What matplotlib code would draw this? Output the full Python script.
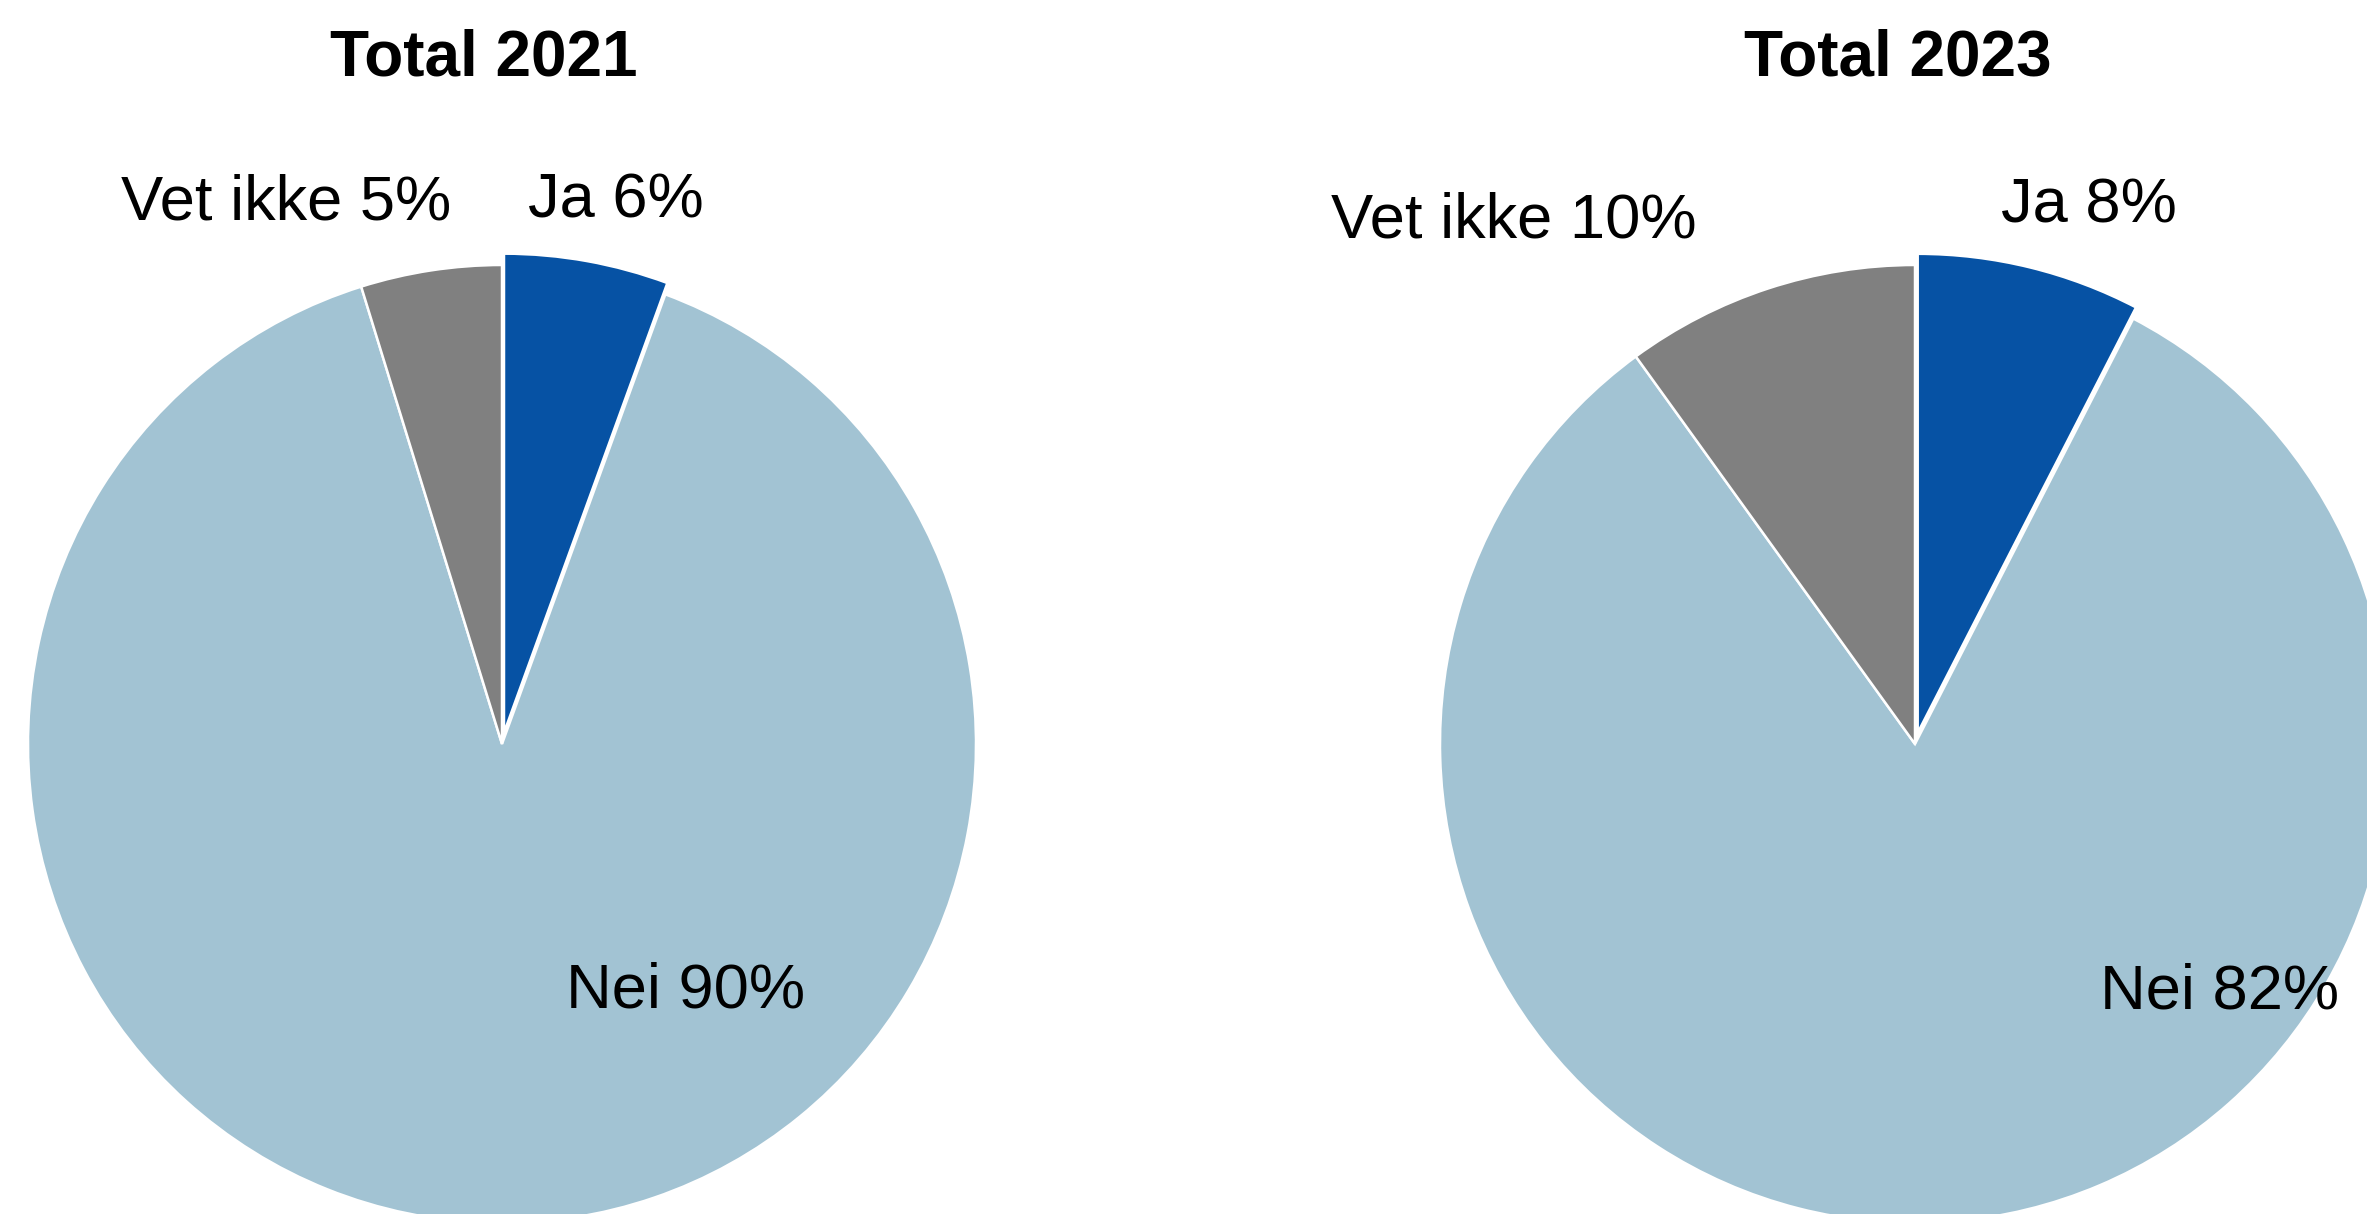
import matplotlib
matplotlib.use("Agg")
import matplotlib.pyplot as plt

plt.rcParams['font.family'] = ['Liberation Sans', 'DejaVu Sans']

# Data
categories = ["Ja", "Nei", "Vet ikke"]
titles = ["Total 2021", "Total 2023"]
values_2021 = [5.6, 89.6, 4.8]
values_2023 = [7.6, 82.4, 10.0]
labels_2021 = ["Ja 6%", "Nei 90%", "Vet ikke 5%"]
labels_2023 = ["Ja 8%", "Nei 82%", "Vet ikke 10%"]
colors = ["#0652A4", "#A2C3D3", "#808080"]
explode = [0.024, 0.0, 0.0]

W, H = 2367, 1214
fig = plt.figure(figsize=(W / 100, H / 100), dpi=100)

def add_pie(cx, cy, rx, ry, values, labels, title, label_pos, title_x):
    ax = fig.add_axes([(cx - rx) / W, (H - cy - ry) / H, 2 * rx / W, 2 * ry / H])
    ax.pie(values, colors=colors, startangle=90, counterclock=False,
           explode=explode,
           wedgeprops=dict(edgecolor="white", linewidth=1.8))
    ax.set_xlim(-1, 1)
    ax.set_ylim(-1, 1)
    ax.set_aspect("auto")
    ax.axis("off")
    for lab, (x, y) in zip(labels, label_pos):
        ax.text(x, y, lab, ha="center", va="baseline", fontsize=45.5,
                color="black", clip_on=False)
    fig.text(title_x / W, (H - 76) / H, title, ha="center", va="baseline",
             fontsize=46, fontweight="bold", color="black")
    return ax

add_pie(502, 744, 474, 479, values_2021, labels_2021, titles[0],
        [(0.241, 1.100), (0.388, -0.551), (-0.456, 1.096)], 484)
add_pie(1915, 744, 475, 479, values_2023, labels_2023, titles[1],
        [(0.366, 1.088), (0.641, -0.553), (-0.845, 1.058)], 1898)

fig.savefig("out.png", dpi=100, facecolor="white")
